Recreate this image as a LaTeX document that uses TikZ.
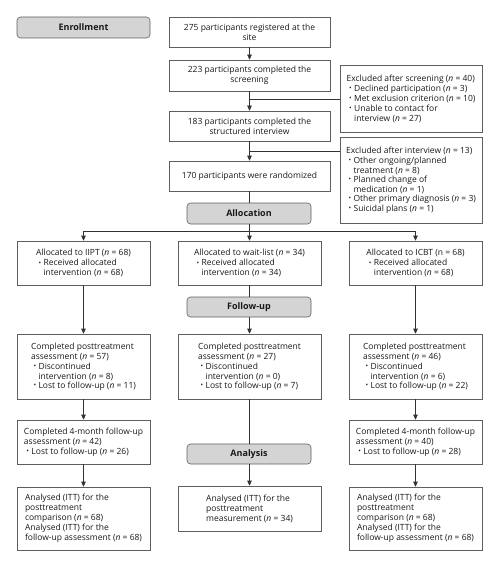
\documentclass[tikz,border=0pt]{standalone}
\usepackage{fontspec}
\setmainfont{Open Sans}
\usetikzlibrary{arrows.meta}
\definecolor{bordc}{RGB}{95,95,95}
\definecolor{linec}{RGB}{50,50,50}
\definecolor{headfill}{RGB}{212,212,212}
\definecolor{txtc}{RGB}{25,25,25}
\newcommand{\nn}{\textit{n}}
\newcommand{\bul}{\hspace*{2.5pt}\makebox[5pt][l]{\raisebox{0.1ex}{\scriptsize\textbullet}}}
\newcommand{\bitem}[2]{\bul\vtop{\hbox{#1}\hbox{#2}}}
\begin{document}
\begin{tikzpicture}[x=1pt,y=-1pt,
  every node/.style={text=txtc,font=\fontsize{8.5}{10}\selectfont},
  box/.style={draw=bordc,line width=0.6pt,fill=white,align=left,inner sep=0pt},
  cbox/.style={box,align=center},
  head/.style={draw=bordc,line width=0.6pt,fill=headfill,rounded corners=3.5pt,inner sep=0pt,font=\fontsize{9}{10}\selectfont\bfseries},
  conn/.style={draw=linec,line width=0.6pt},
  arr/.style={conn,-{Triangle[length=5pt,width=4.5pt]}}]
\useasboundingbox (0,0) rectangle (499,567);

% headings
\node[head,minimum width=133pt,minimum height=21pt] (enroll) at (83.5,27.5) {Enrollment};
\node[head,minimum width=124pt,minimum height=21pt] (alloc) at (249,213.5) {Allocation};
\node[head,minimum width=124pt,minimum height=20pt] (follow) at (249,307) {Follow-up};
\node[head,minimum width=124pt,minimum height=20pt] (analysis) at (249,454) {Analysis};

% enrollment column
\node[cbox,minimum width=161pt,minimum height=30pt] (r275) at (249.5,32) {275 participants registered at the\\site};
\node[cbox,minimum width=161pt,minimum height=31pt] (r223) at (249.5,75.5) {223 participants completed the\\screening};
\node[cbox,minimum width=161pt,minimum height=30pt] (r183) at (249.5,126) {183 participants completed the\\structured interview};
\node[cbox,minimum width=161pt,minimum height=30pt] (r170) at (249.5,176) {170 participants were randomized};

% exclusions
\node[box,minimum width=142pt,minimum height=67pt] (exscr) at (411,98.5) {Excluded after screening (\nn{} = 40)\\
\bul Declined participation (\nn{} = 3)\\
\bul Met exclusion criterion (\nn{} = 10)\\
\bitem{Unable to contact for}{interview (\nn{} = 27)}};
\node[box,minimum width=142pt,minimum height=86pt] (exint) at (411,180) {Excluded after interview (\nn{} = 13)\\
\bitem{Other ongoing/planned}{treatment (\nn{} = 8)}\\
\bitem{Planned change of}{medication (\nn{} = 1)}\\
\bul Other primary diagnosis (\nn{} = 3)\\
\bul Suicidal plans (\nn{} = 1)};

% allocation
\node[box,minimum width=133pt,minimum height=44pt] (iipt) at (83.5,263) {Allocated to IIPT (\nn{} = 68)\\
\bitem{Received allocated}{intervention (\nn{} = 68)}};
\node[box,minimum width=143pt,minimum height=44pt] (wait) at (249.5,263) {Allocated to wait-list (\nn{} = 34)\\
\bitem{Received allocated}{intervention (\nn{} = 34)}};
\node[box,minimum width=133pt,minimum height=44pt] (icbt) at (415.5,263) {Allocated to ICBT (n = 68)\\
\bitem{Received allocated}{intervention (\nn{} = 68)}};

% posttreatment
\node[box,minimum width=133pt,minimum height=65pt] (postL) at (83.5,366.5) {Completed posttreatment\\
assessment (\nn{} = 57)\\
\bitem{Discontinued}{intervention (\nn{} = 8)}\\
\bul Lost to follow-up (\nn{} = 11)};
\node[box,minimum width=143pt,minimum height=65pt] (postM) at (249.5,366.5) {Completed posttreatment\\
assessment (\nn{} = 27)\\
\bitem{Discontinued}{intervention (\nn{} = 0)}\\
\bul Lost to follow-up (\nn{} = 7)};
\node[box,minimum width=133pt,minimum height=65pt] (postR) at (415.5,366.5) {Completed posttreatment\\
assessment (\nn{} = 46)\\
\bitem{Discontinued}{intervention (\nn{} = 6)}\\
\bul Lost to follow-up (\nn{} = 22)};

% 4-month follow-up
\node[box,minimum width=133pt,minimum height=44pt] (fuL) at (83.5,442) {Completed 4-month follow-up\\
assessment (\nn{} = 42)\\
\bul Lost to follow-up (\nn{} = 26)};
\node[box,minimum width=133pt,minimum height=44pt] (fuR) at (415.5,442) {Completed 4-month follow-up\\
assessment (\nn{} = 40)\\
\bul Lost to follow-up (\nn{} = 28)};

% analysed
\node[box,minimum width=133pt,minimum height=63pt] (anL) at (83.5,518.5) {Analysed (ITT) for the\\
posttreatment\\
comparison (\nn{} = 68)\\
Analysed (ITT) for the\\
follow-up assessment (\nn{} = 68)};
\node[box,minimum width=143pt,minimum height=45pt] (anM) at (249.5,508.5) {Analysed (ITT) for the\\
posttreatment\\
measurement (\nn{} = 34)};
\node[box,minimum width=133pt,minimum height=63pt] (anR) at (415.5,518.5) {Analysed (ITT) for the\\
posttreatment\\
comparison (\nn{} = 68)\\
Analysed (ITT) for the\\
follow-up assessment (\nn{} = 68)};

% connectors
\draw[arr] (r275.south) -- (r275.south |- r223.north);
\draw[arr] (r223.south) -- (r223.south |- r183.north);
\draw[arr] (r183.south) -- (r183.south |- r170.north);
\draw[conn] (r170.south) -- (r170.south |- alloc.north);
\coordinate (e1) at (249.5,99);
\coordinate (e2) at (249.5,151);
\draw[conn] (e1) -- (exscr.west |- e1);
\draw[conn] (e2) -- (exint.west |- e2);

\coordinate (bM) at (249.5,231);
\coordinate (bL) at (83.5,231);
\coordinate (bR) at (415.5,231);
\draw[conn] (alloc.south -| bM) -- (bM);
\draw[conn] (bL) -- (bR);
\draw[arr] (bL) -- (iipt.north);
\draw[arr] (bM) -- (wait.north);
\draw[arr] (bR) -- (icbt.north);

\draw[arr] (iipt.south) -- (postL.north);
\draw[conn] (wait.south) -- (wait.south |- follow.north);
\draw[arr] (wait.south |- follow.south) -- (postM.north);
\draw[arr] (icbt.south) -- (postR.north);

\draw[arr] (postL.south) -- (fuL.north);
\draw[arr] (postR.south) -- (fuR.north);
\draw[conn] (postM.south) -- (postM.south |- analysis.north);
\draw[arr] (postM.south |- analysis.south) -- (anM.north);

\draw[arr] (fuL.south) -- (anL.north);
\draw[arr] (fuR.south) -- (anR.north);
\end{tikzpicture}
\end{document}
